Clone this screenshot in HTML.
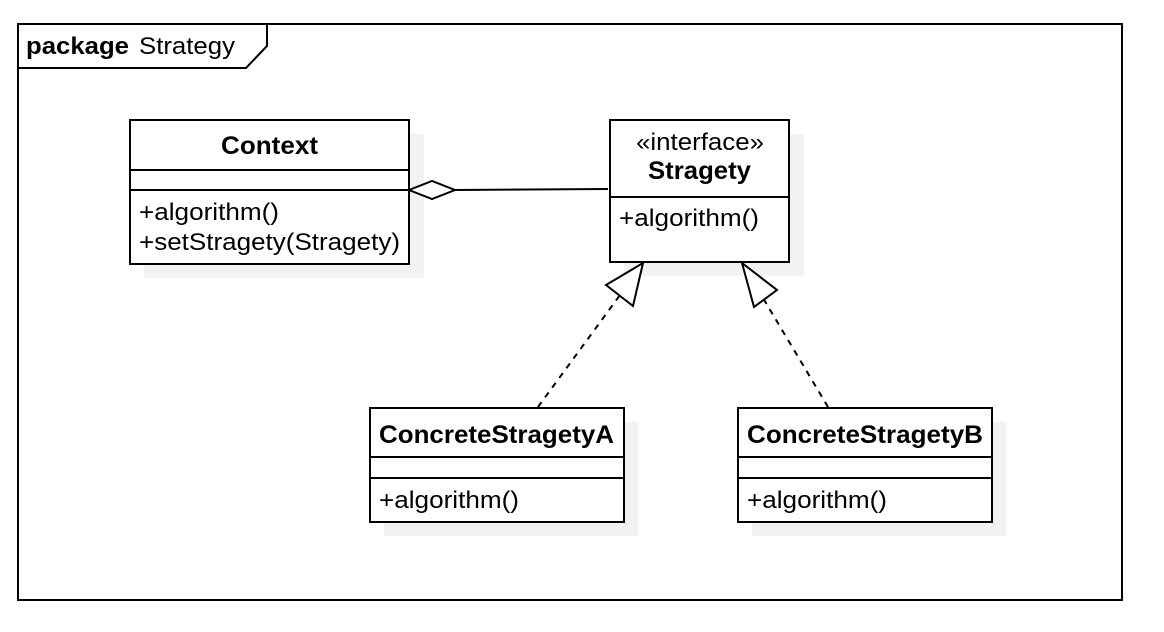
<!DOCTYPE html>
<html><head><meta charset="utf-8"><style>
html,body{margin:0;padding:0;background:#fff;}
svg{display:block;}
text{font-family:"Liberation Sans",Arial,sans-serif;fill:#000;}
</style></head><body>
<svg width="1164" height="632" viewBox="0 0 1164 632" xmlns="http://www.w3.org/2000/svg">
<rect x="18" y="24" width="1104" height="576" fill="#fff" stroke="#000" stroke-width="2"/>
<path d="M18 68 H246 L267 46 V24" fill="none" stroke="#000" stroke-width="2"/>
<text x="26" y="54" font-size="24" font-weight="bold" textLength="103" lengthAdjust="spacingAndGlyphs">package</text>
<text x="139" y="54" font-size="24" textLength="96" lengthAdjust="spacingAndGlyphs">Strategy</text>

<!-- shadows -->
<rect x="144" y="134" width="280" height="144" fill="#f2f2f2"/>
<rect x="624" y="134" width="180" height="142" fill="#f2f2f2"/>
<rect x="384" y="422" width="254" height="114" fill="#f2f2f2"/>
<rect x="752" y="422" width="254" height="114" fill="#f2f2f2"/>

<!-- Context -->
<rect x="130" y="120" width="279" height="144" fill="#fff" stroke="#000" stroke-width="2"/>
<line x1="130" y1="170" x2="409" y2="170" stroke="#000" stroke-width="2"/>
<line x1="130" y1="190" x2="409" y2="190" stroke="#000" stroke-width="2"/>
<text x="221" y="154" font-size="25" font-weight="bold" textLength="97" lengthAdjust="spacingAndGlyphs">Context</text>
<text x="139" y="220" font-size="24" textLength="140" lengthAdjust="spacingAndGlyphs">+algorithm()</text>
<text x="139" y="250" font-size="24" textLength="261" lengthAdjust="spacingAndGlyphs">+setStragety(Stragety)</text>

<!-- Stragety -->
<rect x="610" y="120" width="179" height="142" fill="#fff" stroke="#000" stroke-width="2"/>
<line x1="610" y1="197" x2="789" y2="197" stroke="#000" stroke-width="2"/>
<text x="636" y="150" font-size="24" textLength="128" lengthAdjust="spacingAndGlyphs">«interface»</text>
<text x="648" y="179" font-size="25" font-weight="bold" textLength="103" lengthAdjust="spacingAndGlyphs">Stragety</text>
<text x="619" y="226" font-size="24" textLength="140" lengthAdjust="spacingAndGlyphs">+algorithm()</text>

<!-- ConcreteA -->
<rect x="370" y="408" width="254" height="114" fill="#fff" stroke="#000" stroke-width="2"/>
<line x1="370" y1="457" x2="624" y2="457" stroke="#000" stroke-width="2"/>
<line x1="370" y1="478" x2="624" y2="478" stroke="#000" stroke-width="2"/>
<text x="379" y="443" font-size="25" font-weight="bold" textLength="235" lengthAdjust="spacingAndGlyphs">ConcreteStragetyA</text>
<text x="379" y="508" font-size="24" textLength="140" lengthAdjust="spacingAndGlyphs">+algorithm()</text>

<!-- ConcreteB -->
<rect x="738" y="408" width="254" height="114" fill="#fff" stroke="#000" stroke-width="2"/>
<line x1="738" y1="457" x2="992" y2="457" stroke="#000" stroke-width="2"/>
<line x1="738" y1="478" x2="992" y2="478" stroke="#000" stroke-width="2"/>
<text x="747" y="443" font-size="25" font-weight="bold" textLength="236" lengthAdjust="spacingAndGlyphs">ConcreteStragetyB</text>
<text x="747" y="508" font-size="24" textLength="140" lengthAdjust="spacingAndGlyphs">+algorithm()</text>

<!-- aggregation -->
<line x1="455" y1="190" x2="608" y2="189" stroke="#000" stroke-width="2"/>
<polygon points="409,190 432,181 455,190 432,199" fill="#fff" stroke="#000" stroke-width="2"/>

<!-- realizations -->
<line x1="538" y1="407" x2="620" y2="295" stroke="#000" stroke-width="2" stroke-dasharray="6,6"/>
<polygon points="643,263 606,285 633,306" fill="#fff" stroke="#000" stroke-width="2"/>
<line x1="828" y1="407" x2="763" y2="298" stroke="#000" stroke-width="2" stroke-dasharray="6,6"/>
<polygon points="742,263 777,290 754,307" fill="#fff" stroke="#000" stroke-width="2"/>
</svg>
</body></html>
